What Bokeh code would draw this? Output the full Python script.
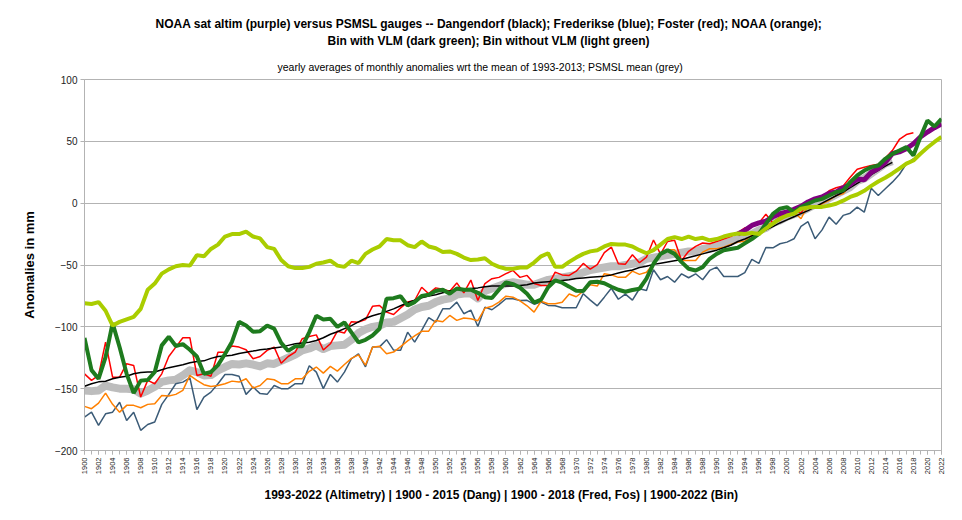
import math
from bokeh.plotting import figure
from bokeh.models import Range1d, FixedTicker, Title
from bokeh.embed import file_html
from bokeh.resources import INLINE

# ---------------- data (mm anomalies, yearly) ----------------
YEAR_FIRST = 1900
YEAR_LAST = 2022

# NOAA satellite altimetry (purple) 1993-2022
altim_start = 1993
altim = [-25, -22, -18, -16, -14.5, -11, -8.5, -7, -5, -2.5, 1, 3.5, 5, 8, 9,
         12.5, 15, 19.5, 19, 25, 28, 33, 40, 41.5, 44, 48, 53.5, 57.5, 61, 64]

# Dangendorf (black) 1900-2015
dang_start = 1900
dang = [-148, -146, -144.5, -144, -142, -140.7, -140, -138, -137, -136.6,
        -136.5, -134.7, -133, -131.8, -130.6, -129, -128, -127.5, -125.5, -124,
        -123.5, -123, -121.5, -120.5, -119.6, -118.5, -118, -117.2, -116.4, -115,
        -113.7, -113, -112.4, -111, -108.8, -106, -104, -101.5, -99, -96,
        -93, -91, -89.5, -87.5, -85.5, -83, -80.5, -78.5, -76.5, -75,
        -74, -72.5, -71, -70, -69.5, -69, -68.5, -67.5, -67, -67,
        -67, -67, -66.5, -66, -64.5, -64, -63.5, -63, -62.5, -62,
        -61, -60.5, -60, -59.5, -59, -58, -56.5, -55, -54, -52,
        -51, -49.5, -48.5, -47.5, -46.5, -45.5, -44, -42.5, -41, -39.5,
        -38, -36, -34, -31, -29, -26.5, -24, -21.5, -19, -16,
        -13.5, -11, -8.5, -6, -3, 0, 3, 6, 9, 12.5,
        16, 19.5, 23, 26.5, 30, 33]

# Frederikse (blue) 1900-2018
fred_start = 1900
fred = [-173, -169, -179.7, -170.3, -169, -161, -175.7, -169, -183.7, -179,
        -177, -162.7, -154.6, -146, -144.7, -141.2, -167, -156.8, -152.8, -146,
        -138.5, -138.5, -140, -154.6, -148.7, -154, -154.6, -147.4, -150, -150,
        -146, -146, -131.5, -136.6, -150, -138.5, -144.7, -136.6, -125.8, -121.8,
        -132.3, -116.4, -116.2, -110.4, -118.8, -119, -104.3, -112.4, -102.9, -92.5,
        -96.2, -85.4, -85.4, -80, -89.4, -86.5, -99.7, -84.1, -86.2, -82,
        -77.3, -77.3, -78.7, -78.6, -81.7, -80, -82.7, -83, -84.6, -84.6,
        -84.6, -73.2, -78.4, -83, -76, -68.8, -77.7, -73.5, -78.4, -69.2,
        -70.6, -53.8, -61.9, -59.3, -63.9, -57.1, -60.3, -57.1, -61.9, -54.4,
        -51.7, -59.3, -59.3, -59.3, -56.2, -45.4, -48.7, -35.8, -36.1, -32.8,
        -31.5, -28.8, -18.7, -15, -28.8, -21.6, -11.3, -17, -9.9, -8.1,
        -3.2, -7.3, 12, 6.2, 11.6, 17, 23.2, 31.9, 35.9]

# Foster (red) 1900-2018
fost_start = 1900
fost = [-138, -143.3, -139.3, -112.4, -140.7, -140.7, -129.8, -131.2, -156.8, -143.3,
        -146, -138, -124, -116.4, -108.8, -108.8, -139.3, -138, -140, -120.5,
        -120.5, -115.5, -116.4, -118.5, -125.8, -124, -119, -116.4, -129.5, -124,
        -120.5, -109.6, -107.8, -106.5, -118.7, -113.7, -103.5, -105, -95.8, -96.2,
        -94.2, -83.4, -82.7, -88.1, -90, -84.7, -80, -78.7, -68, -73.2,
        -68.5, -69.6, -71.2, -64.5, -72.5, -62.2, -78.7, -65, -61.1, -60,
        -57, -54.4, -60, -58.4, -65, -66.5, -66.5, -55.8, -58, -58.4,
        -55, -48.7, -53.4, -49.7, -40, -35.5, -49, -49.3, -41.7, -48.2,
        -43.7, -29.8, -41.2, -31, -30, -46.3, -38.9, -34.9, -32.2, -32.8,
        -31, -29, -27, -24, -20, -19, -16, -9, -16, -11,
        -8.5, -6.5, -8, 0.5, 3.5, 5, 10, 12.5, 14, 21,
        27.5, 29, 30.5, 31.5, 36.5, 42.5, 51.5, 55.5, 57]

# NOAA gauges (orange) 1900-2014
noaa_start = 1900
noaa = [-164.3, -166.2, -161.7, -153.6, -162.7, -169, -163.5, -163.5, -165.4, -162.7,
        -162.2, -155.5, -156, -154.6, -151.4, -139.3, -143.3, -146.8, -148.2, -147.4,
        -146, -143.9, -144.7, -142, -149.5, -147.4, -142, -142.8, -146, -146,
        -142, -142, -136, -132.5, -137.4, -132, -135.8, -130.5, -125.5, -122.7,
        -131, -116.6, -115.7, -121.8, -120.4, -116, -111.4, -107.4, -103.6, -103.5,
        -94.8, -95.9, -90.8, -94.8, -92.8, -93.5, -95, -85, -83.4, -80,
        -75.2, -76, -79, -83, -88.1, -79.3, -81.3, -81.3, -80.2, -73.5,
        -75.7, -71.2, -66, -67, -57, -58, -60, -60, -55, -57.6,
        -55.8, -49, -40.9, -37.7, -37.7, -46.3, -46.3, -46.3, -39.6, -36.9,
        -36.9, -35.6, -33.4, -31.5, -30.7, -26.1, -23, -18, -15.4, -14,
        -9.9, -7.3, -12.6, -1.9, -3.2, -0.5, 2.2, 6.2, 7.6, 14.3,
        22.4, 26.4, 29.1, 30.5, 37]

# Bin with VLM (dark green) 1900-2022
binv_start = 1900
binv = [-109, -135, -142, -124.5, -97, -116.5, -138, -153.5, -143.5, -143,
        -136.5, -115, -108, -115.5, -114, -118.5, -124, -138, -136.5, -131,
        -122, -112, -96, -99, -104, -103.5, -99, -101.5, -113, -119.5,
        -115.8, -115.8, -104.3, -91, -94, -93.5, -100, -96.5, -104.5, -112.5,
        -110.5, -107, -101.5, -77.3, -76.8, -75.3, -82.7, -80, -75, -74,
        -71, -70, -73.2, -69, -70, -70, -72.5, -76, -76.7, -70,
        -64, -65.5, -68.3, -73.2, -80.4, -78, -68, -62.5, -64.3, -67.5,
        -70.8, -71.1, -64, -63.6, -64.8, -67.6, -70, -71.6, -70.2, -69.2,
        -61, -49, -41, -38, -41, -47.7, -53, -54.4, -51.7, -45,
        -41, -38, -37, -36, -32.5, -29, -24.8, -16.7, -8.6, -4.5,
        -3.2, -7.3, -3.2, -0.5, 2.2, 3.5, 6.2, 8.9, 10.3, 17,
        22.4, 26.4, 29.1, 30.5, 35.9, 39.9, 42.6, 45.3, 38.6, 53.4,
        66.9, 62, 68.2]

# Bin without VLM (light green) 1900-2022
binn_start = 1900
binn = [-81, -81.5, -80, -87, -99, -96, -94, -92, -85.5, -70,
        -65, -57, -53.5, -51, -50, -50.5, -42, -43, -37, -33.5,
        -27, -25, -25, -23, -27, -28.5, -35.5, -37, -46, -51,
        -52.5, -52.5, -51.5, -49, -48, -46.5, -50.5, -51.5, -46.5, -48.5,
        -41, -37.5, -35, -29, -30, -30, -34, -35.5, -31, -35,
        -36.5, -39.5, -39, -41, -44, -46, -45.5, -44.5, -49, -51.5,
        -53, -53, -52, -52, -48, -43, -40.5, -51.5, -51.5, -47.5,
        -44, -41, -39, -38, -35, -33, -33.5, -33.5, -35, -38,
        -40.5, -38, -33.5, -29, -27.5, -29, -27, -29, -28, -30,
        -29, -27, -25.5, -24.5, -25, -24, -25, -20.5, -16.5, -12.5,
        -10, -8.5, -4.5, -3.5, -3, -3, -2, -0.5, 2, 5,
        7, 10, 14, 17.5, 20.5, 24, 28, 32, 34.5, 40,
        45, 49.5, 53.5]

# PSMSL mean (grey) 1900-2015
psmsl_start = 1900
psmsl = [-151.5, -152, -151.5, -147.5, -149, -150, -150, -150.5, -154, -151.5,
         -148.5, -144.5, -143.3, -142.8, -139.3, -135.2, -136.6, -139.3, -139, -135.2,
         -132.5, -130, -130.5, -129.5, -130.5, -132, -129.5, -130, -127.5, -125,
         -122.5, -119, -117.5, -115, -118, -115.5, -115, -114.5, -110.5, -105,
         -102, -100, -99, -96.5, -96, -93, -90, -86, -84, -83,
         -80, -78, -77, -74, -73, -73, -77, -71, -69, -67,
         -65, -64, -65, -66, -66, -64, -62, -61, -60, -59,
         -58, -56, -54, -53, -52, -51, -51, -50, -49, -48,
         -45, -44, -43, -42, -41, -40, -39, -39, -37, -36,
         -35, -33, -31, -29, -27, -25, -22, -20, -16, -14,
         -11, -9, -7, -4, -1, 1, 4, 7, 10, 13,
         18, 20, 24, 28, 32, 34]

y_ticks = [-200, -150, -100, -50, 0, 50, 100]

title_1 = ("NOAA sat altim (purple) versus PSMSL gauges -- Dangendorf (black); "
           "Frederikse (blue); Foster (red); NOAA (orange);")
title_2 = "Bin with VLM (dark green); Bin without VLM (light green)"
subtitle = "yearly averages of monthly anomalies wrt the mean of 1993-2013; PSMSL mean (grey)"
x_title = "1993-2022 (Altimetry) | 1900 - 2015 (Dang) | 1900 - 2018 (Fred, Fos) | 1900-2022 (Bin)"
y_title = "Anomalies in mm"

# ---------------- figure ----------------
FONT = "Liberation Sans"
GRID = "#b3b3b3"

p = figure(width=954, height=512, output_backend="svg", toolbar_location=None,
           x_range=Range1d(YEAR_FIRST, YEAR_LAST), y_range=Range1d(-200, 100),
           min_border_left=84, min_border_right=13, min_border_top=79,
           min_border_bottom=62)
p.title.visible = False
p.background_fill_color = "white"
p.border_fill_color = "white"
p.outline_line_color = GRID
p.outline_line_width = 1

p.xgrid.visible = False
p.ygrid.grid_line_color = GRID
p.ygrid.grid_line_width = 1
p.ygrid.ticker = FixedTicker(ticks=y_ticks)

p.yaxis.ticker = FixedTicker(ticks=y_ticks)
p.yaxis.axis_line_color = GRID
p.yaxis.major_tick_line_color = GRID
p.yaxis.major_tick_out = 4
p.yaxis.major_tick_in = 0
p.yaxis.minor_tick_line_color = None
p.yaxis.major_label_text_font = FONT
p.yaxis.major_label_text_font_size = "10px"
p.yaxis.major_label_text_color = "#222222"
p.yaxis.major_label_standoff = 3
p.yaxis.axis_label = y_title
p.yaxis.axis_label_text_font = FONT
p.yaxis.axis_label_text_font_size = "13px"
p.yaxis.axis_label_text_font_style = "bold"
p.yaxis.axis_label_text_color = "#000000"
p.yaxis.axis_label_standoff = 15

p.xaxis.ticker = FixedTicker(ticks=list(range(YEAR_FIRST, YEAR_LAST + 1, 2)),
                             minor_ticks=list(range(YEAR_FIRST, YEAR_LAST + 1)))
p.xaxis.axis_line_color = GRID
p.xaxis.major_tick_line_color = GRID
p.xaxis.minor_tick_line_color = GRID
p.xaxis.major_tick_out = 4
p.xaxis.major_tick_in = 0
p.xaxis.minor_tick_out = 4
p.xaxis.minor_tick_in = 0
p.xaxis.major_label_orientation = math.pi / 2
p.xaxis.major_label_text_font = FONT
p.xaxis.major_label_text_font_size = "7.5px"
p.xaxis.major_label_text_color = "#222222"
p.xaxis.major_label_standoff = 3


def yrs(start, vals):
    return list(range(start, start + len(vals)))


# drawing order: grey at back, thick greens on top
p.line(yrs(psmsl_start, psmsl), psmsl, line_color="#bdbdbd", line_width=8,
       line_join="round")
p.line(yrs(fred_start, fred), fred, line_color="#3b5b77", line_width=1.5)
p.line(yrs(noaa_start, noaa), noaa, line_color="#ff8000", line_width=1.5)
p.line(yrs(fost_start, fost), fost, line_color="#ff0000", line_width=1.5)
p.line(yrs(dang_start, dang), dang, line_color="#000000", line_width=1.5)
p.line(yrs(altim_start, altim), altim, line_color="#800080", line_width=5)
p.line(yrs(binv_start, binv), binv, line_color="#1e7b1e", line_width=4)
p.line(yrs(binn_start, binn), binn, line_color="#aacd00", line_width=4)

# ---------------- titles (first added sits nearest the plot) ----------------
# align="left" + offset = distance of the text's left edge from the frame's left edge
p.add_layout(Title(text=subtitle, align="left", offset=193, text_font=FONT,
                   text_font_size="10.5px", text_font_style="normal",
                   text_color="#000000", standoff=13), "above")
p.add_layout(Title(text=title_2, align="left", offset=243, text_font=FONT,
                   text_font_size="12px", text_font_style="bold",
                   text_color="#000000", standoff=10), "above")
p.add_layout(Title(text=title_1, align="left", offset=71, text_font=FONT,
                   text_font_size="12px", text_font_style="bold",
                   text_color="#000000", standoff=-8), "above")
p.add_layout(Title(text=x_title, align="left", offset=180, text_font=FONT,
                   text_font_size="12px", text_font_style="bold",
                   text_color="#000000", standoff=16), "below")

open("out.html", "w").write(file_html(p, INLINE))
